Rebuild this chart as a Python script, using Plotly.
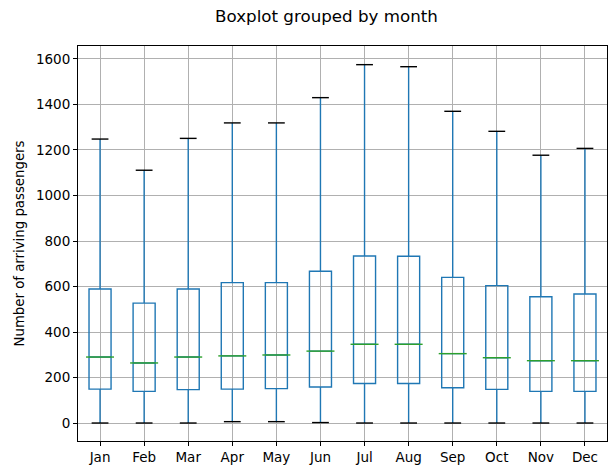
import plotly.graph_objects as go

months = ["Jan", "Feb", "Mar", "Apr", "May", "Jun", "Jul", "Aug", "Sep", "Oct", "Nov", "Dec"]
positions = list(range(1, 13))

# boxplot statistics (passengers)
lower_whisker = [0, 0, 0, 6, 6, 2, 0, 0, 0, 0, 0, 0]
q1 = [149, 139, 147, 149, 151, 158, 174, 174, 155, 148, 139, 139]
median = [290, 264, 290, 295, 299, 316, 346, 346, 305, 287, 274, 274]
q3 = [589, 527, 589, 617, 617, 667, 734, 733, 640, 604, 555, 567]
upper_whisker = [1248, 1111, 1251, 1319, 1319, 1430, 1575, 1566, 1370, 1282, 1177, 1207]

BLUE = "#1f77b4"
GREEN = "#2ca02c"
FONT = "DejaVu Sans"

fig = go.Figure()
fig.add_trace(go.Box(
    x=positions, q1=q1, median=median, q3=q3,
    lowerfence=lower_whisker, upperfence=upper_whisker,
    width=0.5, whiskerwidth=0,
    fillcolor="rgba(0,0,0,0)",
    line=dict(color=BLUE, width=1.4),
    boxpoints=False, hoverinfo="skip", showlegend=False,
))
# green medians
fig.add_scatter(
    x=positions, y=median, mode="markers",
    marker=dict(symbol="line-ew", size=20, line=dict(color=GREEN, width=1.4)),
    showlegend=False, hoverinfo="skip",
)
# black whisker caps
fig.add_scatter(
    x=positions + positions, y=lower_whisker + upper_whisker, mode="markers",
    marker=dict(symbol="line-ew", size=12, line=dict(color="black", width=1.4)),
    showlegend=False, hoverinfo="skip",
)

fig.update_layout(
    width=613, height=467,
    margin=dict(l=78, r=6, t=46, b=26),
    paper_bgcolor="white", plot_bgcolor="white",
    font=dict(family=FONT, size=13.5, color="black"),
    title=dict(
        text="Boxplot grouped by month",
        x=326.5 / 613, xref="container", xanchor="center",
        y=1 - 16 / 467, yref="container", yanchor="middle",
        font=dict(size=16.7),
    ),
)
fig.update_xaxes(
    range=[0.5, 12.5], tickvals=positions, ticktext=months,
    showgrid=True, gridcolor="#b0b0b0", gridwidth=1,
    showline=True, linecolor="black", linewidth=1, mirror=True,
    ticks="outside", ticklen=4, tickcolor="black", zeroline=False,
    automargin=False,
)
fig.update_yaxes(
    range=[-79, 1657], tickvals=list(range(0, 1601, 200)),
    title=dict(text="Number of arriving passengers", standoff=8, font=dict(size=13.3)),
    showgrid=True, gridcolor="#b0b0b0", gridwidth=1,
    showline=True, linecolor="black", linewidth=1, mirror=True,
    ticks="outside", ticklen=4, tickcolor="black", zeroline=False,
    automargin=False,
)

fig.write_html(
    "out.html",
    config={"displayModeBar": False},
    post_script="document.body.style.margin = '0';",
)
